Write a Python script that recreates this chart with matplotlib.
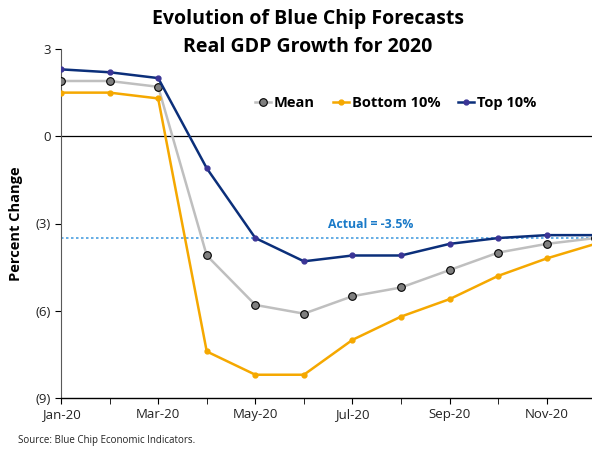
import matplotlib
matplotlib.use('Agg')
import matplotlib.pyplot as plt
from matplotlib.ticker import FixedLocator

plt.rcParams['font.family'] = ['Open Sans', 'DejaVu Sans']

# Forecast month (index) and readings, percent
months = ['Jan-20', 'Feb-20', 'Mar-20', 'Apr-20', 'May-20', 'Jun-20',
          'Jul-20', 'Aug-20', 'Sep-20', 'Oct-20', 'Nov-20', 'Dec-20']
mean_vals = [1.9, 1.9, 1.7, -4.1, -5.8, -6.1, -5.5, -5.2, -4.6, -4.0, -3.7, -3.5]
bottom_vals = [1.5, 1.5, 1.3, -7.4, -8.2, -8.2, -7.0, -6.2, -5.6, -4.8, -4.2, -3.7]
top_vals = [2.3, 2.2, 2.0, -1.1, -3.5, -4.3, -4.1, -4.1, -3.7, -3.5, -3.4, -3.4]
actual = -3.5

x = list(range(len(months)))

fig = plt.figure(figsize=(5.92, 4.5), dpi=100)
ax = fig.add_axes([61 / 592, 52 / 450, 531 / 592, 349 / 450])

ax.axhline(0, color='black', lw=0.9, zorder=1)
ax.axhline(actual, color='#4A9FE0', lw=1.2, ls=(0, (1.5, 1.5)), zorder=1)

ax.plot(x, mean_vals, color='#BFBFBF', lw=1.8, marker='o', ms=5.5,
        mfc='#7F7F7F', mec='black', mew=0.8, label='Mean', zorder=3)
ax.plot(x, bottom_vals, color='#F5A800', lw=1.8, marker='o', ms=3.5,
        mfc='#F5A800', mec='#F5A800', label='Bottom 10%', zorder=3)
ax.plot(x, top_vals, color='#0B2F7A', lw=1.8, marker='o', ms=3.5,
        mfc='#3B3596', mec='#3B3596', label='Top 10%', zorder=4)

ax.text(6.38, actual + 0.25, 'Actual = -3.5%', color='#1A7AC8',
        fontsize=8.8, fontweight='bold', va='bottom', ha='center')

ax.set_xlim(0, 10.93)
ax.set_ylim(-9, 3)
ax.xaxis.set_major_locator(FixedLocator(x[::2]))
ax.set_xticklabels(months[::2])
ax.xaxis.set_minor_locator(FixedLocator(x[1::2]))
ax.set_yticks([3, 0, -3, -6, -9])
ax.set_yticklabels(['3', '0', '(3)', '(6)', '(9)'])
ax.tick_params(axis='both', which='both', direction='out', length=4,
               labelsize=9.5, color='black', labelcolor='#222222')
ax.tick_params(axis='x', which='minor', length=4)

for side in ['top', 'right']:
    ax.spines[side].set_visible(False)
ax.spines['left'].set_color('#595959')
ax.spines['bottom'].set_color('black')
ax.spines['bottom'].set_linewidth(1.0)

ax.set_ylabel('Percent Change', fontsize=10.5, fontweight='bold', labelpad=9)

leg = ax.legend(loc='center', bbox_to_anchor=(0.63, 0.845), ncol=3,
                frameon=False, handlelength=1.1, handletextpad=0.2,
                columnspacing=1.2, prop={'weight': 'bold', 'size': 10.5})

fig.text(0.52, 0.98, 'Evolution of Blue Chip Forecasts\nReal GDP Growth for 2020',
         ha='center', va='top', fontsize=14, fontweight='bold', linespacing=1.5)
fig.text(18 / 592, 10 / 450, 'Source: Blue Chip Economic Indicators.',
         fontsize=7, color='#222222', ha='left', va='center')

fig.savefig('out.png', dpi=100)
